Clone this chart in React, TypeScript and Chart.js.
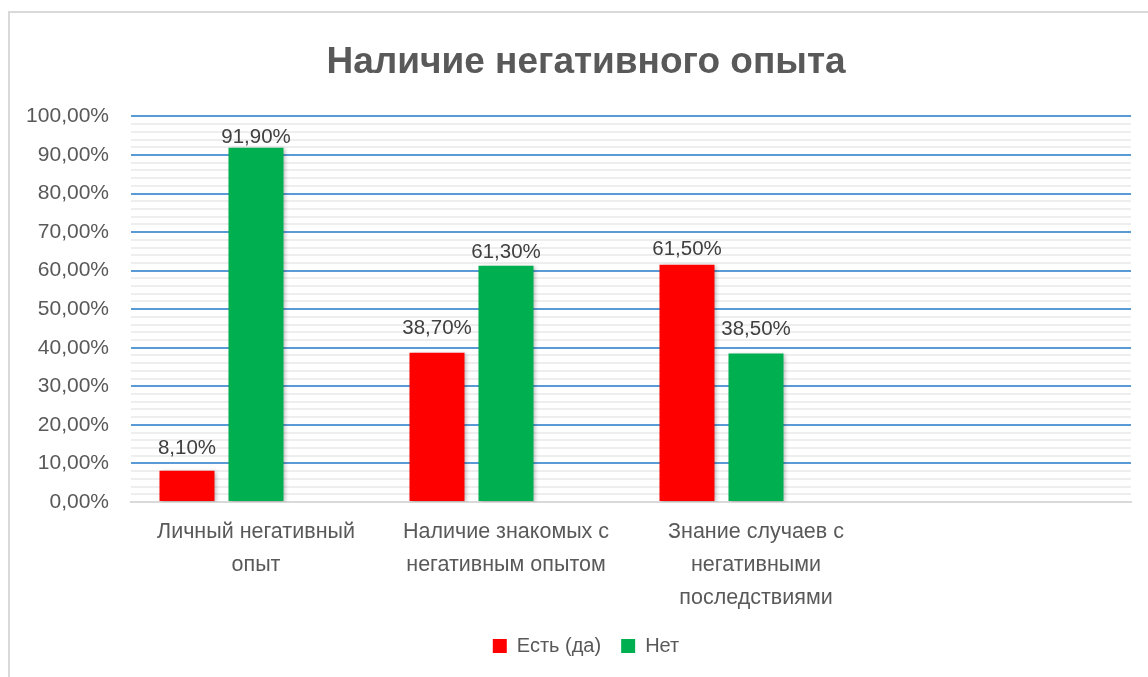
import React, { useEffect, useRef } from "react";
import { Chart, registerables } from "chart.js";

Chart.register(...registerables);

const categories: (string | string[])[] = [
  ["Личный негативный", "опыт"],
  ["Наличие знакомых с", "негативным опытом"],
  ["Знание случаев с", "негативными", "последствиями"],
  "",
];
const seriesNames = ["Есть (да)", "Нет"];
const yesValues = [8.1, 38.7, 61.5];
const noValues = [91.9, 61.3, 38.5];
const yTickStep = 2;
const yMajorStep = 10;
const yMax = 100;

const FONT = "'Liberation Sans', Arial, sans-serif";
const TEXT = "#595959";
const CANVAS_W = 1172;
const CANVAS_H = 677;

const fmt = (v: number) => v.toFixed(2).replace(".", ",") + "%";

// label lift above the bar top (px), as in the reference layout
const labelLift = [
  [17, 19, 10],
  [5, 8, 19],
];

const valueLabels = {
  id: "valueLabels",
  afterDatasetsDraw(chart: any) {
    const ctx = chart.ctx;
    ctx.save();
    ctx.font = `20.5px ${FONT}`;
    ctx.fillStyle = "#404040";
    ctx.textAlign = "center";
    ctx.textBaseline = "alphabetic";
    [0, 1].forEach((di) => {
      const meta = chart.getDatasetMeta(di);
      const data = chart.data.datasets[di].data as number[];
      meta.data.forEach((bar: any, i: number) => {
        if (data[i] == null) return;
        ctx.fillText(fmt(data[i]), bar.x, bar.y - labelLift[di][i]);
      });
    });
    ctx.restore();
  },
};

const barShadow = {
  id: "barShadow",
  beforeDatasetsDraw(chart: any) {
    const ctx = chart.ctx;
    ctx.save();
    ctx.shadowColor = "rgba(0,0,0,0.28)";
    ctx.shadowBlur = 4;
    ctx.shadowOffsetX = 2;
    ctx.shadowOffsetY = 1;
  },
  afterDatasetsDraw(chart: any) {
    chart.ctx.restore();
  },
};

export default function App() {
  const ref = useRef<HTMLCanvasElement>(null);
  useEffect(() => {
    if (!ref.current) return;
    const chart = new Chart(ref.current, {
      type: "bar",
      data: {
        labels: categories,
        datasets: [
          { label: seriesNames[0], data: yesValues, backgroundColor: "#FF0000" },
          { label: seriesNames[1], data: noValues, backgroundColor: "#00B050" },
          { label: "", data: [], backgroundColor: "rgba(0,0,0,0)" },
        ],
      },
      options: {
        animation: false,
        responsive: false,
        maintainAspectRatio: false,
        datasets: { bar: { categoryPercentage: 0.828, barPercentage: 0.797 } },
        layout: { padding: { top: 0, left: 0, right: 0, bottom: 11 } },
        plugins: {
          title: {
            display: true,
            text: "Наличие негативного опыта",
            color: TEXT,
            font: { family: FONT, size: 37, weight: "bold" },
            padding: { top: 41, bottom: 31 },
          },
          legend: {
            position: "bottom",
            labels: {
              color: TEXT,
              font: { family: FONT, size: 20 },
              boxWidth: 14,
              boxHeight: 14,
              padding: 20,
              filter: (item: any) => item.datasetIndex < 2,
            },
          },
          tooltip: { enabled: false },
        },
        scales: {
          x: {
            grid: { display: false, drawTicks: false },
            border: { display: true, color: "#d9d9d9", width: 2 },
            ticks: {
              color: TEXT,
              font: { family: FONT, size: 21.5, lineHeight: 1.55 },
              padding: 13,
              maxRotation: 0,
              autoSkip: false,
            },
            afterFit: (s: any) => {
              s.height = 114;
            },
          },
          y: {
            min: 0,
            max: yMax,
            border: { display: false },
            grid: {
              drawTicks: false,
              color: (c: any) =>
                c.tick.value === 0
                  ? "#d9d9d9"
                  : c.tick.value % yMajorStep === 0
                  ? "#5b9bd5"
                  : "#eeeeee",
              lineWidth: 2,
            },
            ticks: {
              stepSize: yTickStep,
              autoSkip: false,
              color: TEXT,
              font: { family: FONT, size: 21 },
              padding: 22,
              callback: (v: any) => (Number(v) % yMajorStep === 0 ? fmt(Number(v)) : ""),
            },
            afterFit: (s: any) => {
              s.width = 131;
            },
          },
          spacer: {
            type: "linear",
            position: "right",
            min: 0,
            max: 1,
            grid: { display: false, drawTicks: false },
            border: { display: false },
            ticks: { display: false },
            afterFit: (s: any) => {
              s.width = CANVAS_W - 1131;
            },
          },
        },
      },
      plugins: [barShadow, valueLabels],
    });
    return () => chart.destroy();
  }, []);
  return (
    <div
      style={{
        position: "absolute",
        left: 0,
        top: 0,
        width: 1148,
        height: 677,
        overflow: "hidden",
        background: "#fff",
      }}
    >
      <div
        style={{
          position: "absolute",
          left: 8,
          top: 11,
          width: 1140,
          height: 666,
          borderTop: "2px solid #d9d9d9",
          borderLeft: "2px solid #d9d9d9",
          boxSizing: "border-box",
        }}
      />
      <canvas
        ref={ref}
        width={CANVAS_W}
        height={CANVAS_H}
        style={{ position: "absolute", left: 0, top: 0 }}
      />
    </div>
  );
}
